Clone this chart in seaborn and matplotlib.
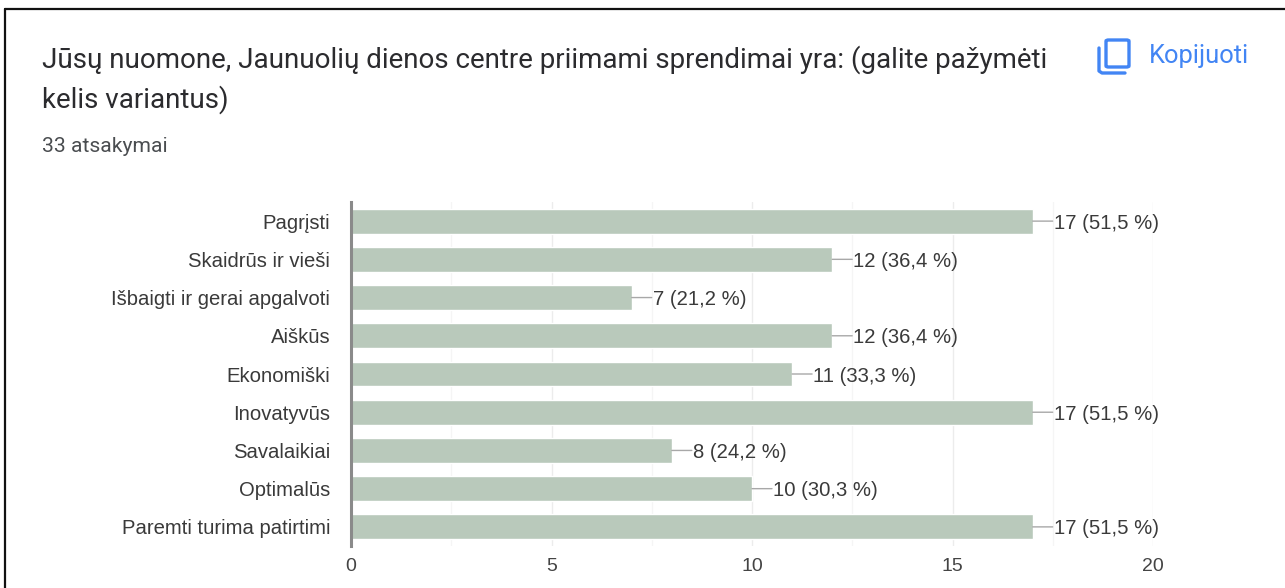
import matplotlib
matplotlib.use("Agg")
import matplotlib.pyplot as plt
import seaborn as sns
import pandas as pd
from matplotlib.lines import Line2D
from matplotlib.patches import FancyBboxPatch

categories = ["Pagrįsti", "Skaidrūs ir vieši", "Išbaigti ir gerai apgalvoti", "Aiškūs",
              "Ekonomiški", "Inovatyvūs", "Savalaikiai", "Optimalūs", "Paremti turima patirtimi"]
counts = [17, 12, 7, 12, 11, 17, 8, 10, 17]
percents = ["51,5", "36,4", "21,2", "36,4", "33,3", "51,5", "24,2", "30,3", "51,5"]
major_ticks = [0, 5, 10, 15, 20]
minor_ticks = [2.5, 7.5, 12.5, 17.5]

W, H = 1285, 588
sns.set_theme(style="white")
plt.rcParams["font.family"] = ["Roboto", "DejaVu Sans"]
ARIAL = ["Liberation Sans", "DejaVu Sans"]

fig = plt.figure(figsize=(W / 100, H / 100), dpi=100, facecolor="white")
ax = fig.add_axes([351 / W, 1 - 546 / H, (1153 - 351) / W, (546 - 202) / H])

df = pd.DataFrame({"cat": categories, "count": counts})
sns.barplot(data=df, y="cat", x="count", color="#b9c9bb", saturation=1, width=0.65, ax=ax, zorder=3)

ax.set_xlim(0, 20)
ax.set_ylim(len(categories) - 0.5, -0.5)
ax.set_xlabel("")
ax.set_ylabel("")
ax.set_xticks(major_ticks)
ax.set_xticks(minor_ticks, minor=True)
ax.grid(True, axis="x", which="major", color="#ececec", lw=1, zorder=0)
ax.grid(True, axis="x", which="minor", color="#f5f5f5", lw=1, zorder=0)
ax.grid(False, axis="y")
ax.tick_params(axis="both", which="both", length=0)
ax.tick_params(axis="x", labelsize=14, labelcolor="#444444", pad=8.5)
ax.tick_params(axis="y", labelsize=14.6, labelcolor="#3a3a3a", pad=15)
for lab in ax.get_xticklabels() + ax.get_yticklabels():
    lab.set_fontfamily(ARIAL)
for s in ["top", "right", "bottom"]:
    ax.spines[s].set_visible(False)
ax.spines["left"].set_color("#8a8a8a")
ax.spines["left"].set_linewidth(2.2)
ax.spines["left"].set_zorder(5)

px = 72 / fig.dpi
for i, (c, p) in enumerate(zip(counts, percents)):
    ax.annotate("", xy=(c, i), xytext=(20 * px, 0), textcoords="offset points",
                arrowprops=dict(arrowstyle="-", color="#a8a8a8", lw=1, shrinkA=0, shrinkB=0),
                annotation_clip=False, zorder=4)
    ax.annotate(f"{c} ({p} %)", xy=(c, i), xytext=(21 * px, 0), textcoords="offset points",
                va="center_baseline", ha="left", fontsize=14.6, color="#3a3a3a",
                family=ARIAL, annotation_clip=False, zorder=6)

# Heading block
fig.text(42 / W, 1 - 60 / H, "Jūsų nuomone, Jaunuolių dienos centre priimami sprendimai yra: (galite pažymėti",
         fontsize=19.95, color="#2b2b2e", va="center")
fig.text(42 / W, 1 - 100 / H, "kelis variantus)", fontsize=19.95, color="#2b2b2e", va="center")
fig.text(42 / W, 1 - 147 / H, "33 atsakymai", fontsize=15.2, color="#4a4d50", va="center")
fig.text(1149 / W, 1 - 56 / H, "Kopijuoti", fontsize=18.4, color="#4285f4", va="center")

# Outer frame
for xs, ys in [([5, 5], [9, 588]), ([5, 1285], [9, 9])]:
    fig.add_artist(Line2D([x / W for x in xs], [1 - y / H for y in ys], color="#111111", lw=1.6))

# Copy icon
blue = "#4285f4"
fig.add_artist(FancyBboxPatch((1106 / W, 1 - 67 / H), 23 / W, 27 / H, boxstyle="round,pad=0,rounding_size=0.002",
                              transform=fig.transFigure, fc="none", ec=blue, lw=2.4))
fig.add_artist(Line2D([1099 / W, 1099 / W, 1102 / W, 1125 / W],
                      [1 - 48 / H, 1 - 71 / H, 1 - 73 / H, 1 - 73 / H], color=blue, lw=2.4))

fig.savefig("out.png", dpi=100, facecolor="white")
